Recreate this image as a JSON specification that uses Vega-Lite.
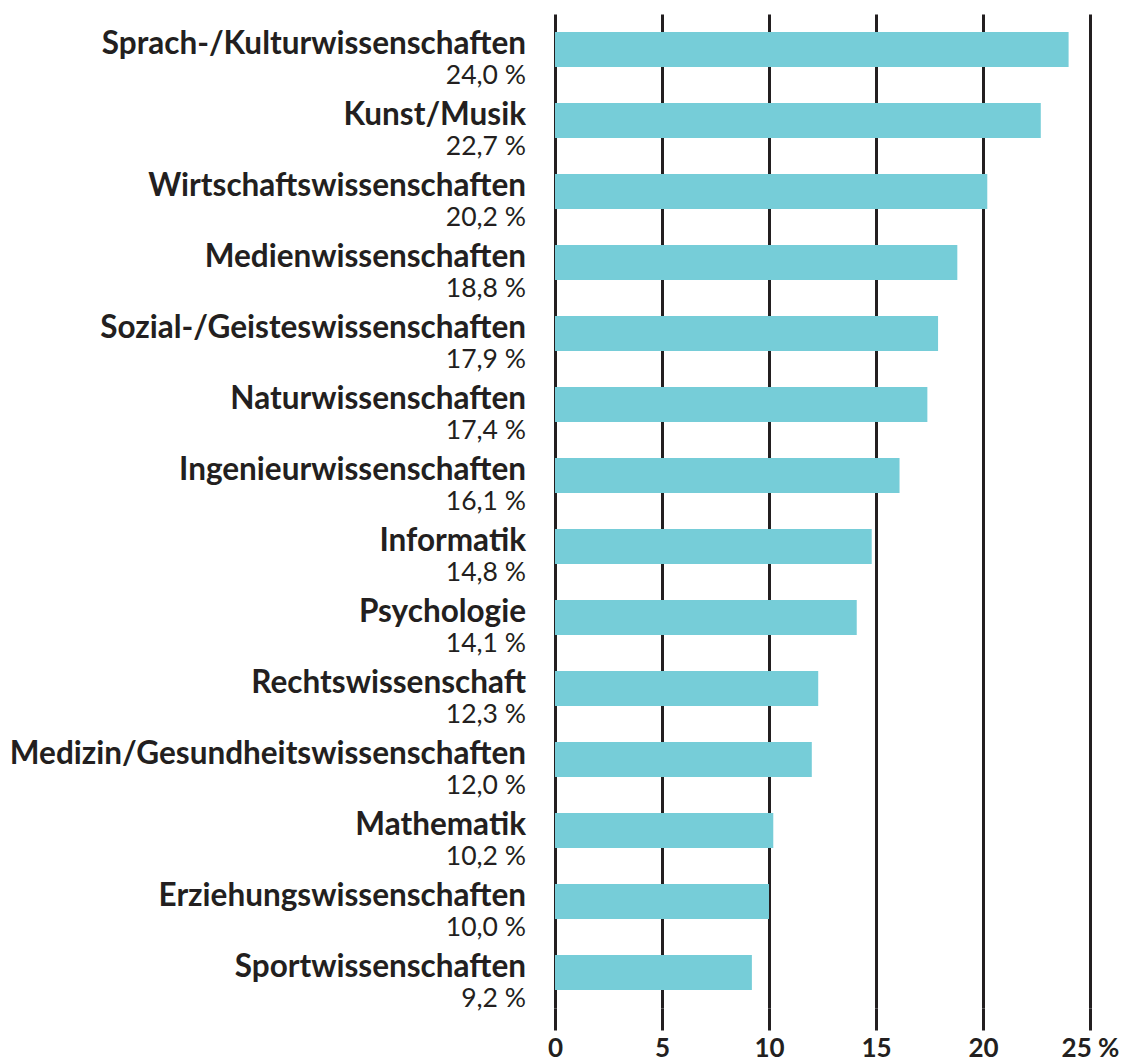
{
  "$schema": "https://vega.github.io/schema/vega-lite/v6.json",
  "width": 535,
  "height": 994,
  "autosize": {"type": "none"},
  "padding": {"left": 555, "top": 14, "right": 35, "bottom": 53},
  "background": "white",
  "config": {"view": {"stroke": null}, "font": "Lato"},
  "data": {"values": [
    {"Fach": "Sprach-/Kulturwissenschaften", "Wert": 24.0, "Label": "24,0 %"},
    {"Fach": "Kunst/Musik", "Wert": 22.7, "Label": "22,7 %"},
    {"Fach": "Wirtschaftswissenschaften", "Wert": 20.2, "Label": "20,2 %"},
    {"Fach": "Medienwissenschaften", "Wert": 18.8, "Label": "18,8 %"},
    {"Fach": "Sozial-/Geisteswissenschaften", "Wert": 17.9, "Label": "17,9 %"},
    {"Fach": "Naturwissenschaften", "Wert": 17.4, "Label": "17,4 %"},
    {"Fach": "Ingenieurwissenschaften", "Wert": 16.1, "Label": "16,1 %"},
    {"Fach": "Informatik", "Wert": 14.8, "Label": "14,8 %"},
    {"Fach": "Psychologie", "Wert": 14.1, "Label": "14,1 %"},
    {"Fach": "Rechtswissenschaft", "Wert": 12.3, "Label": "12,3 %"},
    {"Fach": "Medizin/Gesundheitswissenschaften", "Wert": 12.0, "Label": "12,0 %"},
    {"Fach": "Mathematik", "Wert": 10.2, "Label": "10,2 %"},
    {"Fach": "Erziehungswissenschaften", "Wert": 10.0, "Label": "10,0 %"},
    {"Fach": "Sportwissenschaften", "Wert": 9.2, "Label": "9,2 %"}
  ]},
  "encoding": {
    "y": {"field": "Fach", "type": "nominal", "sort": null, "axis": null,
          "scale": {"paddingInner": 0, "paddingOuter": 0}}
  },
  "layer": [
    {
      "mark": {"type": "bar", "color": "#76CDD8", "height": 35},
      "encoding": {
        "x": {"field": "Wert", "type": "quantitative",
              "scale": {"domain": [0, 25], "nice": false, "zero": true},
              "axis": {
                "title": null,
                "values": [0, 5, 10, 15, 20, 25],
                "labelExpr": "datum.value == 25 ? '25 %' : datum.label",
                "domain": false,
                "grid": true,
                "gridColor": "#231f20",
                "gridWidth": 3,
                "gridOpacity": 1,
                "ticks": true,
                "tickSize": 22,
                "tickWidth": 3,
                "tickColor": "#231f20",
                "labelFont": "Lato",
                "labelFontWeight": "bold",
                "labelFontSize": 26,
                "labelColor": "#231f20",
                "labelPadding": 5,
                "labelFlush": false,
                "labelOverlap": false
              }}
      }
    },
    {
      "mark": {"type": "text", "align": "right", "baseline": "middle", "dx": -29, "dy": -5,
               "font": "Lato", "fontWeight": "bold", "fontSize": 31.5, "color": "#231f20"},
      "encoding": {
        "x": {"datum": 0, "type": "quantitative"},
        "text": {"field": "Fach"}
      }
    },
    {
      "mark": {"type": "text", "align": "right", "baseline": "middle", "dx": -29, "dy": 26,
               "font": "Lato", "fontSize": 26.5, "color": "#231f20"},
      "encoding": {
        "x": {"datum": 0, "type": "quantitative"},
        "text": {"field": "Label"}
      }
    }
  ]
}
